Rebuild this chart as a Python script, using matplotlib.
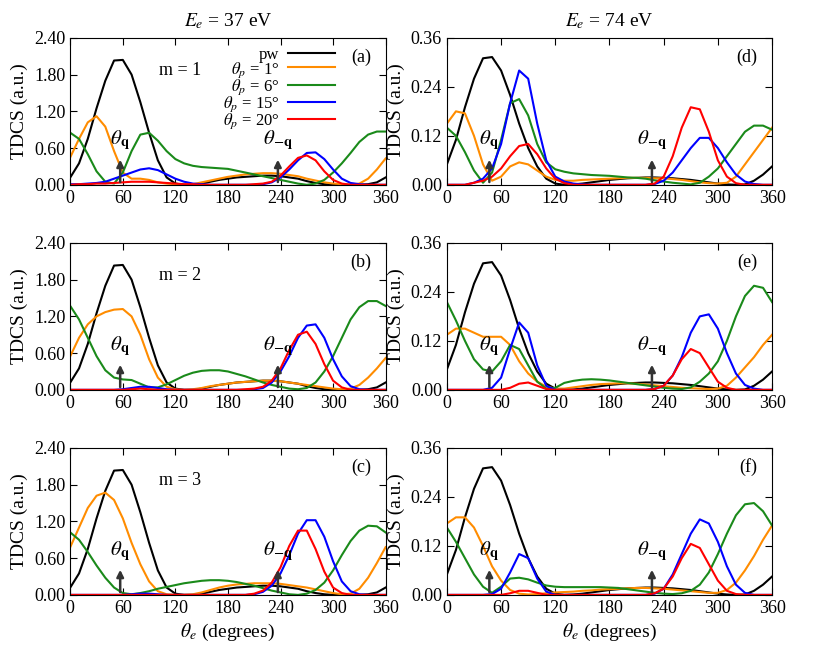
import numpy as np
import matplotlib
matplotlib.use('Agg')
import matplotlib.pyplot as plt

plt.rcParams['font.family'] = 'serif'
plt.rcParams['font.serif'] = ['Liberation Serif']
plt.rcParams['mathtext.fontset'] = 'stix'

# Ejection angle grid (degrees).
theta_e = np.arange(0, 361, 10)

# Ee = 37 eV, plane wave (same in all rows).
pw_37 = [0.12, 0.35, 0.75, 1.25, 1.7, 2.03, 2.04, 1.8, 1.35, 0.85, 0.4, 0.12, 0.02, 0, 0,
         0.02, 0.05, 0.08, 0.1, 0.12, 0.13, 0.14, 0.15, 0.15, 0.14, 0.12, 0.1, 0.06, 0.03,
         0.01, 0, 0, 0, 0, 0.01, 0.04, 0.12]
# Ee = 74 eV, plane wave.
pw_74 = [0.05, 0.11, 0.19, 0.26, 0.31, 0.313, 0.28, 0.22, 0.15, 0.09, 0.045, 0.015, 0.003,
         0, 0.001, 0.003, 0.006, 0.009, 0.012, 0.014, 0.016, 0.017, 0.018, 0.018, 0.017,
         0.016, 0.014, 0.012, 0.009, 0.006, 0.003, 0.001, 0, 0.001, 0.01, 0.025, 0.045]

# (a) 37 eV, m = 1
a_1 = [0.45, 0.75, 1.02, 1.12, 0.95, 0.55, 0.2, 0.1, 0.1, 0.08, 0.04, 0.02, 0.01, 0, 0.01,
       0.04, 0.07, 0.1, 0.13, 0.15, 0.17, 0.18, 0.19, 0.19, 0.18, 0.16, 0.14, 0.1, 0.07,
       0.04, 0.02, 0.01, 0, 0.02, 0.1, 0.25, 0.43]
a_6 = [0.85, 0.75, 0.5, 0.22, 0.05, 0.02, 0.2, 0.55, 0.82, 0.85, 0.72, 0.55, 0.42, 0.35,
       0.31, 0.29, 0.28, 0.27, 0.26, 0.23, 0.2, 0.17, 0.14, 0.11, 0.08, 0.05, 0.02, 0,
       0.02, 0.08, 0.2, 0.35, 0.52, 0.7, 0.82, 0.87, 0.87]
a_15 = [0.01, 0.01, 0.02, 0.03, 0.05, 0.1, 0.15, 0.2, 0.25, 0.27, 0.24, 0.17, 0.1, 0.05,
        0.02, 0.01, 0, 0, 0, 0, 0, 0, 0.01, 0.04, 0.12, 0.25, 0.4, 0.52, 0.53, 0.42, 0.25,
        0.1, 0.03, 0.01, 0, 0, 0]
a_20 = [0, 0.01, 0.01, 0.02, 0.02, 0.03, 0.04, 0.05, 0.05, 0.05, 0.04, 0.03, 0.02, 0.01,
        0.01, 0, 0, 0, 0, 0, 0, 0.01, 0.02, 0.05, 0.15, 0.3, 0.44, 0.48, 0.4, 0.22, 0.08,
        0.02, 0, 0, 0, 0, 0]

# (b) 37 eV, m = 2
b_1 = [0.55, 0.85, 1.07, 1.2, 1.27, 1.31, 1.32, 1.2, 0.9, 0.5, 0.2, 0.05, 0.01, 0, 0.01,
       0.03, 0.06, 0.08, 0.1, 0.12, 0.13, 0.14, 0.15, 0.15, 0.14, 0.12, 0.1, 0.08, 0.06,
       0.04, 0.02, 0.01, 0.02, 0.08, 0.2, 0.35, 0.52]
b_6 = [1.37, 1.15, 0.85, 0.55, 0.32, 0.2, 0.17, 0.16, 0.1, 0.04, 0.04, 0.09, 0.16, 0.23,
       0.28, 0.31, 0.32, 0.32, 0.3, 0.26, 0.22, 0.17, 0.12, 0.08, 0.05, 0.02, 0.01, 0.03,
       0.12, 0.3, 0.55, 0.85, 1.15, 1.35, 1.45, 1.45, 1.37]
b_15 = [0, 0, 0, 0, 0, 0, 0.01, 0.03, 0.05, 0.05, 0.03, 0.01, 0, 0, 0, 0, 0, 0, 0, 0, 0,
        0.01, 0.03, 0.12, 0.3, 0.55, 0.85, 1.05, 1.07, 0.85, 0.5, 0.22, 0.06, 0.01, 0, 0, 0]
b_20 = [0, 0, 0, 0, 0, 0, 0, 0.01, 0.02, 0.01, 0, 0, 0, 0, 0, 0, 0, 0, 0, 0, 0.01, 0.02,
        0.05, 0.15, 0.35, 0.65, 0.9, 0.95, 0.75, 0.42, 0.15, 0.04, 0, 0, 0, 0, 0]

# (c) 37 eV, m = 3
c_1 = [0.78, 1.1, 1.42, 1.62, 1.67, 1.55, 1.25, 0.85, 0.5, 0.22, 0.06, 0.01, 0, 0, 0.01,
       0.04, 0.08, 0.12, 0.15, 0.17, 0.18, 0.19, 0.19, 0.19, 0.18, 0.16, 0.14, 0.12, 0.09,
       0.06, 0.03, 0.01, 0.02, 0.1, 0.28, 0.52, 0.78]
c_6 = [1.02, 0.9, 0.7, 0.48, 0.28, 0.12, 0.03, 0.01, 0.03, 0.06, 0.1, 0.13, 0.16, 0.19,
       0.21, 0.23, 0.24, 0.24, 0.23, 0.21, 0.18, 0.15, 0.11, 0.07, 0.04, 0.01, 0, 0.02,
       0.08, 0.2, 0.4, 0.65, 0.88, 1.05, 1.13, 1.12, 1.02]
c_15 = [0, 0, 0, 0, 0, 0, 0, 0.01, 0.02, 0.02, 0.01, 0, 0, 0, 0, 0, 0, 0, 0, 0, 0, 0.01,
        0.05, 0.15, 0.35, 0.65, 1.0, 1.22, 1.22, 0.95, 0.55, 0.22, 0.06, 0.01, 0, 0, 0]
c_20 = [0, 0, 0, 0, 0, 0, 0, 0, 0, 0, 0, 0, 0, 0, 0, 0, 0, 0, 0, 0, 0, 0.02, 0.07, 0.2,
        0.45, 0.8, 1.05, 1.05, 0.75, 0.38, 0.12, 0.03, 0, 0, 0, 0, 0]

# (d) 74 eV, m = 1
d_1 = [0.15, 0.18, 0.175, 0.12, 0.05, 0.01, 0.02, 0.045, 0.055, 0.05, 0.035, 0.02, 0.012,
       0.01, 0.01, 0.012, 0.013, 0.014, 0.015, 0.016, 0.017, 0.017, 0.017, 0.016, 0.016,
       0.014, 0.012, 0.009, 0.006, 0.004, 0.003, 0.005, 0.02, 0.05, 0.08, 0.11, 0.14]
d_6 = [0.14, 0.12, 0.08, 0.035, 0.005, 0.03, 0.11, 0.2, 0.21, 0.17, 0.1, 0.055, 0.038,
       0.032, 0.028, 0.026, 0.024, 0.023, 0.022, 0.02, 0.018, 0.017, 0.015, 0.011, 0.008,
       0.005, 0.003, 0.001, 0.005, 0.02, 0.04, 0.07, 0.1, 0.13, 0.145, 0.145, 0.135]
d_15 = [0, 0, 0, 0.005, 0.015, 0.04, 0.1, 0.2, 0.28, 0.26, 0.15, 0.06, 0.02, 0.008, 0.003,
        0.001, 0, 0, 0, 0, 0, 0, 0, 0.002, 0.01, 0.03, 0.06, 0.09, 0.115, 0.115, 0.09,
        0.055, 0.025, 0.008, 0.002, 0, 0]
d_20 = [0, 0, 0, 0.005, 0.01, 0.02, 0.04, 0.07, 0.095, 0.1, 0.075, 0.04, 0.015, 0.004, 0,
        0, 0, 0, 0, 0, 0, 0, 0, 0.003, 0.02, 0.07, 0.14, 0.19, 0.185, 0.13, 0.06, 0.02,
        0.004, 0, 0, 0, 0]

# (e) 74 eV, m = 2
e_1 = [0.135, 0.15, 0.15, 0.14, 0.13, 0.13, 0.13, 0.11, 0.07, 0.04, 0.02, 0.008, 0.003,
       0.003, 0.006, 0.009, 0.012, 0.014, 0.015, 0.016, 0.016, 0.015, 0.013, 0.011, 0.009,
       0.007, 0.005, 0.004, 0.003, 0.002, 0.003, 0.01, 0.03, 0.055, 0.08, 0.11, 0.135]
e_6 = [0.215, 0.17, 0.12, 0.075, 0.05, 0.045, 0.07, 0.11, 0.1, 0.06, 0.02, 0.003, 0.005,
       0.017, 0.022, 0.025, 0.026, 0.025, 0.023, 0.02, 0.017, 0.014, 0.011, 0.008, 0.005,
       0.003, 0.002, 0.006, 0.02, 0.04, 0.07, 0.12, 0.18, 0.23, 0.255, 0.25, 0.215]
e_15 = [0, 0, 0, 0, 0, 0.005, 0.03, 0.1, 0.165, 0.14, 0.06, 0.01, 0, 0, 0, 0, 0, 0, 0, 0,
        0, 0, 0, 0.002, 0.01, 0.035, 0.08, 0.14, 0.18, 0.185, 0.15, 0.09, 0.04, 0.012,
        0.003, 0, 0]
e_20 = [0, 0, 0, 0, 0, 0, 0, 0.005, 0.015, 0.018, 0.01, 0.002, 0, 0, 0, 0, 0, 0, 0, 0, 0,
        0, 0, 0.002, 0.01, 0.035, 0.075, 0.1, 0.09, 0.055, 0.02, 0.005, 0, 0, 0, 0, 0]

# (f) 74 eV, m = 3
f_1 = [0.175, 0.19, 0.19, 0.165, 0.12, 0.07, 0.035, 0.012, 0.003, 0.001, 0.002, 0.004,
       0.006, 0.007, 0.008, 0.01, 0.011, 0.013, 0.014, 0.015, 0.016, 0.017, 0.017, 0.016,
       0.015, 0.013, 0.011, 0.009, 0.007, 0.005, 0.005, 0.012, 0.03, 0.06, 0.095, 0.135, 0.17]
f_6 = [0.165, 0.13, 0.09, 0.05, 0.02, 0.005, 0.02, 0.04, 0.042, 0.038, 0.03, 0.023, 0.02,
       0.019, 0.019, 0.019, 0.019, 0.019, 0.018, 0.017, 0.014, 0.011, 0.008, 0.005, 0.003,
       0.002, 0.004, 0.01, 0.025, 0.055, 0.1, 0.15, 0.195, 0.222, 0.225, 0.205, 0.17]
f_15 = [0, 0, 0, 0, 0, 0.002, 0.015, 0.055, 0.1, 0.09, 0.04, 0.008, 0, 0, 0, 0, 0, 0, 0,
        0, 0, 0, 0, 0.003, 0.015, 0.05, 0.1, 0.15, 0.185, 0.175, 0.13, 0.07, 0.025, 0.005,
        0, 0, 0]
f_20 = [0, 0, 0, 0, 0, 0, 0, 0.004, 0.01, 0.01, 0.005, 0, 0, 0, 0, 0, 0, 0, 0, 0, 0, 0, 0,
        0.004, 0.015, 0.045, 0.09, 0.125, 0.115, 0.075, 0.035, 0.01, 0.002, 0, 0, 0, 0]

labels = ['pw', r'$\theta_p$ = 1°', r'$\theta_p$ = 6°', r'$\theta_p$ = 15°', r'$\theta_p$ = 20°']
colors = ['black', '#ff8c00', '#1a8a1a', '#0000ff', '#ff0000']
tags = ['(a)', '(b)', '(c)', '(d)', '(e)', '(f)']
m_labels = ['m = 1', 'm = 2', 'm = 3']

panels = [
    [pw_37, a_1, a_6, a_15, a_20],
    [pw_37, b_1, b_6, b_15, b_20],
    [pw_37, c_1, c_6, c_15, c_20],
    [pw_74, d_1, d_6, d_15, d_20],
    [pw_74, e_1, e_6, e_15, e_20],
    [pw_74, f_1, f_6, f_15, f_20],
]
theta_q = [57, 47]      # momentum transfer direction per column
ymax = [2.4, 0.36]
yticks = [[0, 0.6, 1.2, 1.8, 2.4], [0, 0.12, 0.24, 0.36]]

fig = plt.figure(figsize=(8.17, 6.53), dpi=100)
lefts = [0.086, 0.547]
widths = [0.386, 0.398]
bottoms = [0.717, 0.403, 0.089]

for col in range(2):
    for row in range(3):
        k = col * 3 + row
        ax = fig.add_axes([lefts[col], bottoms[row], widths[col], 0.225])
        for y, c, lab in zip(panels[k], colors, labels):
            ax.plot(theta_e, y, color=c, lw=1.5, label=lab)
        ax.set_xlim(0, 360)
        ax.set_ylim(0, ymax[col])
        ax.set_xticks(range(0, 361, 60))
        ax.set_yticks(yticks[col])
        ax.set_yticklabels(['%.2f' % v for v in yticks[col]])
        ax.tick_params(direction='in', top=True, right=True, labelsize=13, length=5)
        ax.set_ylabel('TDCS (a.u.)', fontsize=14)
        if row == 2:
            ax.set_xlabel(r'$\theta_e$ (degrees)', fontsize=14)
        if row == 0:
            ax.set_title(r'$E_e$ = %d eV' % (37 if col == 0 else 74), fontsize=14, pad=8)
        ym = ymax[col]
        tq = theta_q[col]
        for x, txt in [(tq, r'$\theta_{\mathbf{q}}$'), (tq + 180, r'$\theta_{-\mathbf{q}}$')]:
            ax.annotate('', xy=(x, 0.19 * ym), xytext=(x, 0),
                        arrowprops=dict(arrowstyle='-|>', color='#333333', lw=1.8,
                                        mutation_scale=10))
            ax.text(x, 0.22 * ym, txt, ha='center', va='bottom', fontsize=15)
        ax.text(0.955, 0.87, tags[k], transform=ax.transAxes, ha='right', va='center',
                fontsize=13)
        if col == 0:
            ax.text(0.28, 0.75, m_labels[row], transform=ax.transAxes, fontsize=13)
        if k == 0:
            ax.legend(loc='upper right', bbox_to_anchor=(0.875, 1.02), frameon=False,
                      markerfirst=False, fontsize=12, handlelength=2.8, labelspacing=-0.15,
                      borderpad=0.2, handletextpad=0.5)

fig.savefig('out.png', dpi=100)
